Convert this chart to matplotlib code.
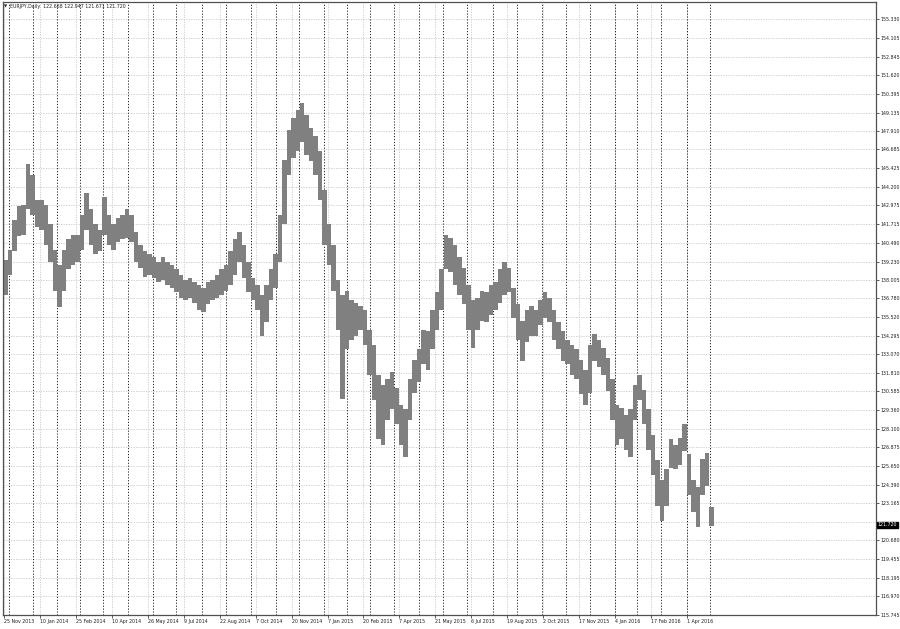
import matplotlib
matplotlib.use("Agg")
import matplotlib.pyplot as plt
import pandas as pd

# EURJPY daily in groups of 4 trading days (high / low of each group)
group_high = [
    139.3, 140.0, 142.0, 142.9, 143.0, 145.7, 145.0, 143.3, 143.3, 143.0,
    141.7, 140.0, 139.0, 140.0, 140.7, 141.0, 141.0, 142.3, 143.8, 142.7,
    141.7, 141.3, 143.5, 142.3, 141.7, 142.1, 142.3, 142.7, 142.3, 141.2,
    140.3, 139.9, 139.7, 139.5, 139.2, 139.5, 139.2, 139.0, 138.7, 138.3,
    138.0, 138.1, 137.9, 137.7, 137.5, 137.9, 138.0, 138.3, 138.7, 139.0,
    139.9, 140.7, 141.2, 140.3, 139.2, 138.1, 137.7, 137.0, 137.7, 138.7,
    139.7, 142.3, 146.0, 148.0, 148.8, 149.3, 149.8, 149.0, 148.1, 147.6,
    146.6, 144.0, 141.7, 140.3, 138.0, 137.0, 137.3, 136.7, 136.5, 136.3,
    136.0, 134.7, 133.7, 131.7, 131.0, 131.4, 131.9, 130.8, 129.7, 129.4,
    131.4, 132.7, 133.4, 134.7, 134.6, 136.0, 137.2, 138.7, 141.0, 140.8,
    140.3, 139.5, 138.8, 137.7, 136.7, 136.8, 137.3, 137.2, 137.7, 137.9,
    138.7, 139.2, 138.8, 137.5, 136.4, 135.3, 136.0, 136.3, 136.0, 136.7,
    137.2, 136.8, 136.0, 135.2, 134.6, 134.0, 133.7, 133.4, 132.7, 132.0,
    133.7, 134.4, 134.0, 133.5, 132.8, 131.4, 129.7, 129.5, 129.0, 129.4,
    131.0, 131.7, 130.7, 129.4, 127.7, 126.0, 124.7, 125.4, 127.4, 127.0,
    127.5, 128.4, 126.4, 124.7, 124.2, 126.1, 126.5, 122.9,
]
group_low = [
    137.0, 138.3, 139.9, 140.9, 141.0, 142.7, 142.3, 141.5, 141.3, 140.3,
    139.2, 137.3, 136.2, 137.3, 138.7, 139.0, 139.2, 140.0, 141.3, 140.3,
    139.7, 139.9, 141.0, 140.3, 140.0, 140.5, 140.7, 140.8, 140.5, 139.2,
    138.8, 138.2, 138.3, 138.1, 137.9, 138.0, 137.7, 137.5, 137.2, 136.8,
    136.7, 136.8, 136.5, 136.0, 135.9, 136.4, 136.7, 136.8, 137.0, 137.3,
    137.7, 138.3, 139.2, 138.1, 137.2, 136.7, 136.0, 134.3, 135.2, 136.7,
    137.5, 139.2, 141.7, 145.0, 146.1, 146.6, 147.2, 146.3, 145.9, 145.0,
    143.3, 140.3, 139.0, 137.3, 134.7, 130.1, 133.4, 134.0, 134.3, 134.7,
    133.7, 131.7, 130.0, 127.4, 127.0, 128.7, 129.4, 128.4, 127.0, 126.2,
    128.7, 130.5, 131.2, 132.4, 132.0, 133.4, 134.7, 136.0, 138.7, 138.5,
    137.7, 137.0, 136.4, 134.7, 133.5, 134.7, 135.3, 135.2, 135.7, 136.0,
    136.5, 137.0, 137.2, 135.5, 134.0, 132.6, 133.9, 134.3, 134.3, 135.0,
    135.5, 135.2, 134.0, 133.4, 132.6, 132.4, 131.7, 131.4, 130.4, 129.7,
    130.5, 132.6, 132.2, 131.7, 130.6, 128.7, 127.0, 127.4, 126.7, 126.2,
    128.7, 130.0, 128.4, 126.7, 125.0, 123.0, 122.0, 123.0, 125.5, 125.4,
    125.7, 126.6, 123.7, 122.6, 121.6, 123.7, 124.3, 121.671,
]
days_per_group = 4

# header values of the last bar
last_open, last_high, last_low, last_close = 122.668, 122.947, 121.671, 121.720

price_ticks = [155.330, 154.105, 152.845, 151.620, 150.395, 149.135, 147.910,
               146.685, 145.425, 144.200, 142.975, 141.715, 140.490, 139.230,
               138.005, 136.780, 135.520, 134.295, 133.070, 131.810, 130.585,
               129.360, 128.100, 126.875, 125.650, 124.390, 123.165, 120.680,
               119.455, 118.195, 116.970, 115.745]
grid_prices = price_ticks + [121.905]

date_labels = ["25 Nov 2013", "10 Jan 2014", "25 Feb 2014", "10 Apr 2014",
               "26 May 2014", "9 Jul 2014", "22 Aug 2014", "7 Oct 2014",
               "20 Nov 2014", "7 Jan 2015", "20 Feb 2015", "7 Apr 2015",
               "21 May 2015", "6 Jul 2015", "19 Aug 2015", "2 Oct 2015",
               "17 Nov 2015", "4 Jan 2016", "17 Feb 2016", "1 Apr 2016"]
label_step = 32  # bars between date labels

# trading calendar (weekdays without 25 Dec / 1 Jan) for month separators
days = pd.bdate_range("2013-11-25", "2017-01-31")
days = days[~((days.month == 12) & (days.day == 25)) & ~((days.month == 1) & (days.day == 1))]
month_starts = [i for i in range(1, len(days)) if days[i].month != days[i - 1].month]

bar_color = "#808080"
fig = plt.figure(figsize=(9, 6.29), dpi=100)
ax = fig.add_axes([0.0033, 0.0223, 0.97, 0.9745])
fs = 3.4

ax.set_xlim(-0.8, 776)
ax.set_ylim(115.72, 156.49)

# grid: light dotted horizontals and verticals at labels, dark dotted month separators
for p in grid_prices:
    ax.axhline(p, color="#c8c8c8", lw=0.6, ls=(0, (1.5, 1.5)), zorder=0)
for i in range(len(date_labels)):
    ax.axvline(i * label_step, color="#c8c8c8", lw=0.6, ls=(0, (1.5, 1.5)), zorder=0)
for i in month_starts:
    if i < 630:
        ax.axvline(i - 0.5, color="#202020", lw=0.7, ls=(0, (1.2, 1.8)), zorder=1)

# price bars
for k, (h, l) in enumerate(zip(group_high, group_low)):
    ax.bar(k * days_per_group - 0.5, h - l, bottom=l, width=days_per_group,
           align="edge", color=bar_color, lw=0, zorder=2)

# axes frame / ticks
for s in ax.spines.values():
    s.set_color("#505050")
    s.set_linewidth(0.9)
ax.yaxis.tick_right()
ax.set_yticks(price_ticks)
ax.set_yticklabels([f"{p:.3f}" for p in price_ticks], fontsize=fs, color="#202020")
ax.set_xticks([i * label_step for i in range(len(date_labels))])
ax.set_xticklabels(date_labels, fontsize=fs, color="#202020", ha="left")
ax.tick_params(axis="y", length=2, width=0.6, pad=1.5, colors="#404040")
ax.tick_params(axis="x", length=2, width=0.6, pad=1.2, colors="#404040")
for t in ax.get_xticklabels() + ax.get_yticklabels():
    t.set_color("#202020")

# current price box
ax.text(1.002, (last_close - 115.72) / (156.49 - 115.72), f"{last_close:.3f}",
        transform=ax.transAxes, fontsize=fs, color="white", va="center", ha="left",
        bbox=dict(boxstyle="square,pad=0.15", fc="black", ec="black"))

# header
fig.text(0.004, 0.990, "\u25bc", fontsize=3, color="#202020", va="center")
fig.text(0.011, 0.990,
         f"EURJPY,Daily  {last_open:.3f} {last_high:.3f} {last_low:.3f} {last_close:.3f}",
         fontsize=fs, color="#202020", va="center")

fig.savefig("out.png", dpi=100, facecolor="white")
